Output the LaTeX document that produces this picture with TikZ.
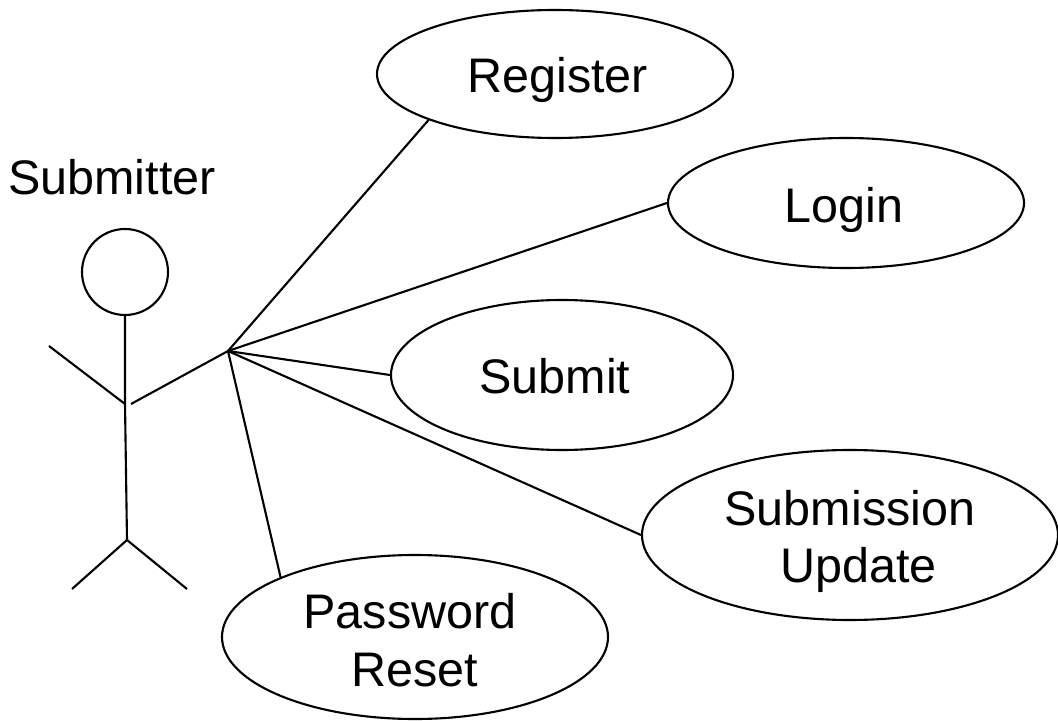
\documentclass[tikz,border=0pt]{standalone}
\usepackage{fontspec}
\setmainfont{Liberation Sans}
\usetikzlibrary{shapes.geometric}

\tikzset{
    usecase/.style={draw, ellipse, inner sep=0pt, align=center, text depth=0pt, line width=1.5pt, font=\fontsize{34.5}{41}\selectfont},
    actorline/.style={line width=1.5pt}
}

\begin{document}
\begin{tikzpicture}[x=.025cm, y=-.025cm]
    \useasboundingbox (0, 0) rectangle (1058, 721);

    \node[usecase, text height=27pt, minimum width=356*.025cm, minimum height=128*.025cm] (register) at (555, 74) {\hspace*{4pt}Register};
    \node[usecase, text height=28.4pt, minimum width=356*.025cm, minimum height=130*.025cm] (login) at (846, 203) {Login\hspace*{3pt}};
    \node[usecase, text height=25.6pt, minimum width=342*.025cm, minimum height=150*.025cm] (submit) at (562, 375) {Submit\hspace*{10pt}};
    \node[usecase, text height=68pt, minimum width=416*.025cm, minimum height=170*.025cm] (update) at (850, 535) {Submission \\ \hspace*{12pt}Update};
    \node[usecase, text height=69.7pt, minimum width=386*.025cm, minimum height=164*.025cm] (reset) at (415, 637) {Password\hspace*{7pt} \\ Reset};

    \node[font=\fontsize{34.5}{41}\selectfont, inner sep=0pt] (submitter) at (112, 177) {Submitter};
    \node[draw, circle, actorline, minimum size=86*.025cm, inner sep=0pt] (head) at (125, 272) {};

    \coordinate (waist) at (127, 540);
    \coordinate (shoulder) at (125, 404);
    \coordinate (armleft) at (49, 346);
    \coordinate (armright) at (131, 404);
    \coordinate (legleft) at (72, 589);
    \coordinate (legright) at (187, 589);
    \coordinate (hub) at (228, 351);

    \begin{scope}[actorline]
        \draw (head.south) -- (shoulder) -- (waist);
        \draw (armleft) -- (shoulder);
        \draw (legleft) -- (waist) -- (legright);
        \draw (armright) -- (hub);
        \draw (hub) -- (register.200);
        \draw (hub) -- (login.west);
        \draw (hub) -- (submit.west);
        \draw (hub) -- (update.west);
        \draw (hub) -- (reset.156);
    \end{scope}
\end{tikzpicture}
\end{document}
